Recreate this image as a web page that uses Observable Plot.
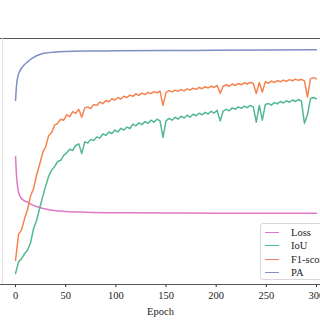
<!DOCTYPE html>
<html>
<head>
<meta charset="utf-8">
<script src="https://cdn.jsdelivr.net/npm/d3@7"></script>
<script src="https://cdn.jsdelivr.net/npm/@observablehq/plot@0.6"></script>
<style>
  html, body { margin: 0; padding: 0; background: #fff; }
  #wrap { position: relative; width: 320px; height: 320px; overflow: hidden; font-family: "Liberation Serif", "DejaVu Serif", serif; }
  #legend { position: absolute; left: 260px; top: 223px; width: 80px; height: 57px; border: 1px solid #d8d8d8; border-radius: 3px; background: rgba(255,255,255,0.85); box-sizing: border-box; }
  .row { position: absolute; left: 0; height: 13px; display: flex; align-items: center; font-size: 10.5px; color: #222; white-space: nowrap; }
  .sw { display: inline-block; width: 14px; height: 0; border-top-width: 1.5px; border-top-style: solid; margin-left: 4px; margin-right: 12px; }
</style>
</head>
<body>
<div id="wrap"></div>
<script>
// ---- data ----
const seriesNames = ["Loss", "IoU", "F1-score", "PA"];
const seriesColors = ["#dd79c6", "#52b893", "#f5834f", "#7d8fc4"];
const xTicks = [0, 50, 100, 150, 200, 250, 300];

const lossEpochs = [0, 1, 2, 3, 5, 8, 12, 16, 20, 25, 30, 40, 50, 70, 100, 150, 200, 250, 300];
const lossValues = [0.52, 0.44, 0.40, 0.375, 0.355, 0.342, 0.335, 0.325, 0.318, 0.312, 0.307, 0.300, 0.297, 0.294, 0.292, 0.291, 0.290, 0.290, 0.290];

const paEpochs = [0, 1, 2, 4, 6, 8, 12, 16, 20, 25, 30, 40, 50, 75, 100, 150, 200, 250, 300];
const paValues = [0.748, 0.81, 0.84, 0.865, 0.88, 0.89, 0.905, 0.918, 0.928, 0.936, 0.941, 0.945, 0.947, 0.949, 0.950, 0.951, 0.952, 0.953, 0.954];

// IoU and F1 read every 3 epochs (0, 3, ..., 300)
const sampledEpochs = [0,3,6,9,12,15,18,21,24,27,30,33,36,39,42,45,48,51,54,57,60,63,66,69,72,75,78,81,84,87,90,93,96,99,102,105,108,111,114,117,120,123,126,129,132,135,138,141,144,147,150,153,156,159,162,165,168,171,174,177,180,183,186,189,192,195,198,201,204,207,210,213,216,219,222,225,228,231,234,237,240,243,246,249,252,255,258,261,264,267,270,273,276,279,282,285,288,291,294,297,300];

const f1Values = [0.098,0.205,0.222,0.268,0.305,0.36,0.39,0.445,0.488,0.535,0.56,0.605,0.618,0.648,0.655,0.672,0.668,0.69,0.682,0.703,0.696,0.712,0.68,0.718,0.722,0.715,0.732,0.728,0.742,0.735,0.748,0.743,0.755,0.75,0.76,0.754,0.765,0.76,0.77,0.765,0.775,0.769,0.778,0.772,0.781,0.776,0.784,0.779,0.786,0.728,0.781,0.788,0.783,0.79,0.785,0.793,0.787,0.795,0.79,0.798,0.793,0.801,0.796,0.804,0.799,0.806,0.801,0.809,0.778,0.806,0.812,0.806,0.815,0.809,0.817,0.812,0.82,0.815,0.822,0.817,0.776,0.821,0.782,0.824,0.818,0.827,0.821,0.829,0.824,0.831,0.826,0.833,0.828,0.835,0.83,0.834,0.828,0.762,0.836,0.841,0.836];

const iouValues = [0.045,0.092,0.105,0.125,0.14,0.17,0.228,0.26,0.31,0.355,0.40,0.44,0.465,0.48,0.50,0.505,0.525,0.535,0.55,0.545,0.565,0.572,0.532,0.58,0.575,0.59,0.585,0.60,0.595,0.612,0.606,0.62,0.614,0.628,0.62,0.635,0.628,0.64,0.634,0.652,0.645,0.657,0.65,0.662,0.655,0.668,0.66,0.672,0.665,0.598,0.665,0.675,0.668,0.68,0.672,0.684,0.677,0.688,0.68,0.692,0.686,0.696,0.69,0.70,0.693,0.704,0.697,0.708,0.665,0.705,0.712,0.706,0.718,0.712,0.722,0.716,0.725,0.719,0.728,0.722,0.66,0.728,0.668,0.732,0.736,0.729,0.74,0.734,0.744,0.738,0.747,0.741,0.75,0.744,0.752,0.745,0.655,0.69,0.755,0.76,0.755];

// ---- build tables ----
const smoothRows = [];
lossEpochs.forEach((e, i) => smoothRows.push({series: "Loss", epoch: e, value: lossValues[i]}));
paEpochs.forEach((e, i) => smoothRows.push({series: "PA", epoch: e, value: paValues[i]}));
const noisyRows = [];
sampledEpochs.forEach((e, i) => noisyRows.push({series: "IoU", epoch: e, value: iouValues[i]}));
sampledEpochs.forEach((e, i) => noisyRows.push({series: "F1-score", epoch: e, value: f1Values[i]}));

const chart = Plot.plot({
  width: 320,
  height: 320,
  marginLeft: 0,
  marginRight: 0,
  marginTop: 38,
  marginBottom: 36,
  style: {fontFamily: "Liberation Serif, serif", fontSize: "10.5px", color: "#222", background: "#fff"},
  x: {domain: [-15, 304], ticks: xTicks, tickSize: 3, tickPadding: 4, label: "Epoch", labelAnchor: "center", labelOffset: 30, labelArrow: "none"},
  y: {domain: [0, 1], axis: null},
  color: {domain: seriesNames, range: seriesColors},
  marks: [
    Plot.ruleY([1], {stroke: "#555", strokeWidth: 1}),
    Plot.ruleX([-13], {stroke: "#e2e2e2", strokeWidth: 1}),
    Plot.line(smoothRows, {x: "epoch", y: "value", z: "series", stroke: "series", strokeWidth: 1.5, curve: "monotone-x"}),
    Plot.line(noisyRows, {x: "epoch", y: "value", z: "series", stroke: "series", strokeWidth: 1.5, curve: "linear"}),
    Plot.ruleY([0], {stroke: "#555", strokeWidth: 1.2})
  ]
});

const wrap = document.getElementById("wrap");
wrap.appendChild(chart);

const legend = document.createElement("div");
legend.id = "legend";
seriesNames.forEach((name, i) => {
  const row = document.createElement("div");
  row.className = "row";
  row.style.top = (2 + i * 13.3) + "px";
  const sw = document.createElement("span");
  sw.className = "sw";
  sw.style.borderTopColor = seriesColors[i];
  row.appendChild(sw);
  row.appendChild(document.createTextNode(name));
  legend.appendChild(row);
});
wrap.appendChild(legend);
</script>
</body>
</html>
